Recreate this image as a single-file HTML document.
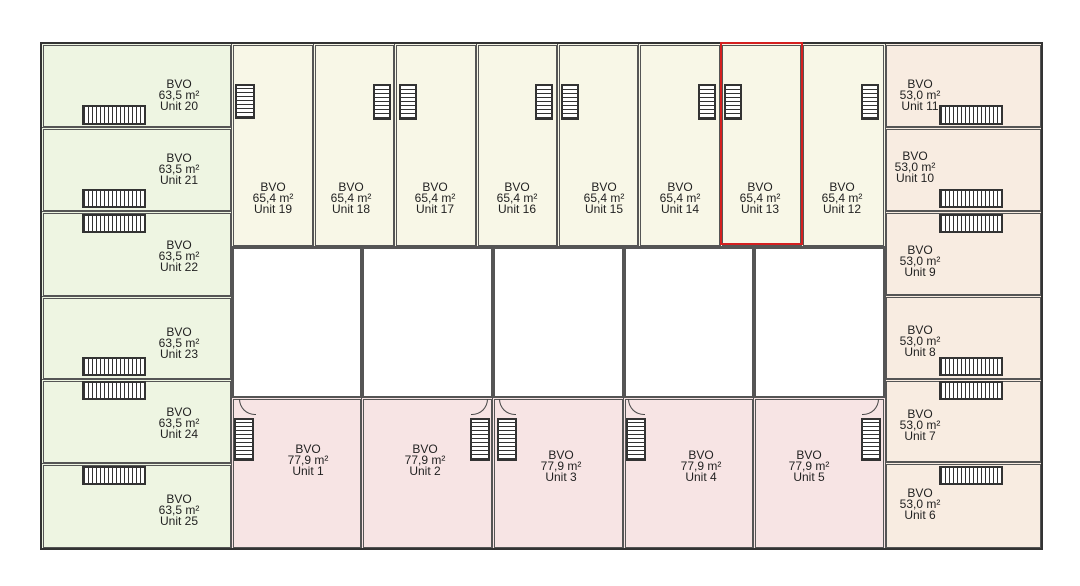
<!DOCTYPE html>
<html><head><style>
body{margin:0;width:1080px;height:586px;background:#fff;position:relative;overflow:hidden;font-family:"Liberation Sans",sans-serif}
div{position:absolute;box-sizing:border-box}
.r{border:3px double #555}
.g{background:#eef5e2}.c{background:#f8f7e7}.p{background:#f7e4e4}.o{background:#f8ece1}
.t{font-size:12px;line-height:11px;text-align:center;color:#222;width:80px;margin-left:-40px}
.sh{border:2px solid #333;background:repeating-linear-gradient(90deg,#333 0 1px,#fff 1px 4px)}
.sv{border:2px solid #333;background:repeating-linear-gradient(0deg,#333 0 1px,#fff 1px 4px)}
</style></head><body>
<!-- left column -->
<div class="r g" style="left:41px;top:43px;width:192px;height:86px"></div>
<div class="r g" style="left:41px;top:127px;width:192px;height:86px"></div>
<div class="r g" style="left:41px;top:211px;width:192px;height:87px"></div>
<div class="r g" style="left:41px;top:296px;width:192px;height:85px"></div>
<div class="r g" style="left:41px;top:379px;width:192px;height:86px"></div>
<div class="r g" style="left:41px;top:463px;width:192px;height:87px"></div>
<!-- right column -->
<div class="r o" style="left:884px;top:43px;width:159px;height:86px"></div>
<div class="r o" style="left:884px;top:127px;width:159px;height:86px"></div>
<div class="r o" style="left:884px;top:211px;width:159px;height:86px"></div>
<div class="r o" style="left:884px;top:295px;width:159px;height:86px"></div>
<div class="r o" style="left:884px;top:379px;width:159px;height:85px"></div>
<div class="r o" style="left:884px;top:462px;width:159px;height:88px"></div>
<!-- top row -->
<div class="r c" style="left:231px;top:43px;width:84px;height:205px"></div>
<div class="r c" style="left:313px;top:43px;width:83px;height:205px"></div>
<div class="r c" style="left:394px;top:43px;width:84px;height:205px"></div>
<div class="r c" style="left:476px;top:43px;width:83px;height:205px"></div>
<div class="r c" style="left:557px;top:43px;width:83px;height:205px"></div>
<div class="r c" style="left:638px;top:43px;width:84px;height:205px"></div>
<div class="r c" style="left:720px;top:43px;width:83px;height:205px"></div>
<div class="r c" style="left:801px;top:43px;width:85px;height:205px"></div>
<!-- middle white -->
<div class="r" style="left:231px;top:246px;width:132px;height:153px"></div>
<div class="r" style="left:361px;top:246px;width:133px;height:153px"></div>
<div class="r" style="left:492px;top:246px;width:133px;height:153px"></div>
<div class="r" style="left:623px;top:246px;width:132px;height:153px"></div>
<div class="r" style="left:753px;top:246px;width:133px;height:153px"></div>
<!-- bottom pink -->
<div class="r p" style="left:231px;top:397px;width:132px;height:153px"></div>
<div class="r p" style="left:361px;top:397px;width:133px;height:153px"></div>
<div class="r p" style="left:492px;top:397px;width:133px;height:153px"></div>
<div class="r p" style="left:623px;top:397px;width:132px;height:153px"></div>
<div class="r p" style="left:753px;top:397px;width:133px;height:153px"></div>
<div style="left:40px;top:42px;width:1003px;height:508px;border:2.5px solid #333"></div>
<!-- red highlight -->
<div style="left:720px;top:42px;width:83px;height:203px;border:2.5px solid #d42020"></div>
<!-- stairs left/right horizontal -->
<div class="sh" style="left:82px;top:105px;width:64px;height:20px"></div>
<div class="sh" style="left:82px;top:189px;width:64px;height:19px"></div>
<div class="sh" style="left:82px;top:214px;width:64px;height:19px"></div>
<div class="sh" style="left:82px;top:357px;width:64px;height:19px"></div>
<div class="sh" style="left:82px;top:381px;width:64px;height:19px"></div>
<div class="sh" style="left:82px;top:466px;width:64px;height:19px"></div>
<div class="sh" style="left:939px;top:105px;width:64px;height:20px"></div>
<div class="sh" style="left:939px;top:189px;width:64px;height:19px"></div>
<div class="sh" style="left:939px;top:214px;width:64px;height:19px"></div>
<div class="sh" style="left:939px;top:357px;width:64px;height:19px"></div>
<div class="sh" style="left:939px;top:381px;width:64px;height:19px"></div>
<div class="sh" style="left:939px;top:466px;width:64px;height:19px"></div>
<!-- stairs top vertical -->
<div class="sv" style="left:235px;top:84px;width:20px;height:35px"></div>
<div class="sv" style="left:373px;top:84px;width:18px;height:36px"></div>
<div class="sv" style="left:399px;top:84px;width:18px;height:36px"></div>
<div class="sv" style="left:535px;top:84px;width:18px;height:36px"></div>
<div class="sv" style="left:561px;top:84px;width:18px;height:36px"></div>
<div class="sv" style="left:698px;top:84px;width:18px;height:36px"></div>
<div class="sv" style="left:724px;top:84px;width:18px;height:36px"></div>
<div class="sv" style="left:861px;top:84px;width:18px;height:36px"></div>
<!-- stairs bottom vertical -->
<div class="sv" style="left:234px;top:418px;width:20px;height:43px"></div>
<div class="sv" style="left:470px;top:418px;width:20px;height:43px"></div>
<div class="sv" style="left:497px;top:418px;width:20px;height:43px"></div>
<div class="sv" style="left:626px;top:418px;width:20px;height:43px"></div>
<div class="sv" style="left:861px;top:418px;width:20px;height:43px"></div>
<!-- doors -->
<div style="left:239px;top:399px;width:17px;height:16px;border-left:1px solid #444;border-bottom:1px solid #444;border-bottom-left-radius:16px"></div>
<div style="left:471px;top:399px;width:17px;height:16px;border-right:1px solid #444;border-bottom:1px solid #444;border-bottom-right-radius:16px"></div>
<div style="left:499px;top:399px;width:17px;height:16px;border-left:1px solid #444;border-bottom:1px solid #444;border-bottom-left-radius:16px"></div>
<div style="left:628px;top:399px;width:17px;height:16px;border-left:1px solid #444;border-bottom:1px solid #444;border-bottom-left-radius:16px"></div>
<div style="left:862px;top:399px;width:17px;height:16px;border-right:1px solid #444;border-bottom:1px solid #444;border-bottom-right-radius:16px"></div>
<!-- labels -->
<div class="t" style="left:179px;top:79px">BVO<br>63,5 m²<br>Unit 20</div>
<div class="t" style="left:179px;top:153px">BVO<br>63,5 m²<br>Unit 21</div>
<div class="t" style="left:179px;top:240px">BVO<br>63,5 m²<br>Unit 22</div>
<div class="t" style="left:179px;top:327px">BVO<br>63,5 m²<br>Unit 23</div>
<div class="t" style="left:179px;top:407px">BVO<br>63,5 m²<br>Unit 24</div>
<div class="t" style="left:179px;top:494px">BVO<br>63,5 m²<br>Unit 25</div>
<div class="t" style="left:920px;top:79px">BVO<br>53,0 m²<br>Unit 11</div>
<div class="t" style="left:915px;top:151px">BVO<br>53,0 m²<br>Unit 10</div>
<div class="t" style="left:920px;top:245px">BVO<br>53,0 m²<br>Unit 9</div>
<div class="t" style="left:920px;top:325px">BVO<br>53,0 m²<br>Unit 8</div>
<div class="t" style="left:920px;top:409px">BVO<br>53,0 m²<br>Unit 7</div>
<div class="t" style="left:920px;top:488px">BVO<br>53,0 m²<br>Unit 6</div>
<div class="t" style="left:273px;top:182px">BVO<br>65,4 m²<br>Unit 19</div>
<div class="t" style="left:351px;top:182px">BVO<br>65,4 m²<br>Unit 18</div>
<div class="t" style="left:435px;top:182px">BVO<br>65,4 m²<br>Unit 17</div>
<div class="t" style="left:517px;top:182px">BVO<br>65,4 m²<br>Unit 16</div>
<div class="t" style="left:604px;top:182px">BVO<br>65,4 m²<br>Unit 15</div>
<div class="t" style="left:680px;top:182px">BVO<br>65,4 m²<br>Unit 14</div>
<div class="t" style="left:760px;top:182px">BVO<br>65,4 m²<br>Unit 13</div>
<div class="t" style="left:842px;top:182px">BVO<br>65,4 m²<br>Unit 12</div>
<div class="t" style="left:308px;top:444px">BVO<br>77,9 m²<br>Unit 1</div>
<div class="t" style="left:425px;top:444px">BVO<br>77,9 m²<br>Unit 2</div>
<div class="t" style="left:561px;top:450px">BVO<br>77,9 m²<br>Unit 3</div>
<div class="t" style="left:701px;top:450px">BVO<br>77,9 m²<br>Unit 4</div>
<div class="t" style="left:809px;top:450px">BVO<br>77,9 m²<br>Unit 5</div>
</body></html>
